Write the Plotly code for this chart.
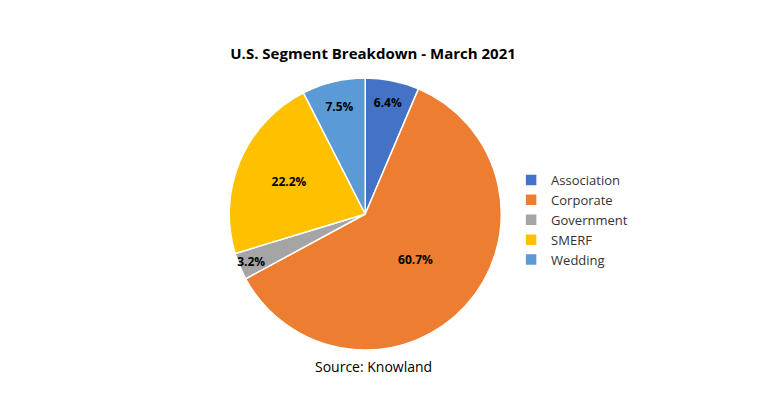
import plotly.graph_objects as go

segments = ["Association", "Corporate", "Government", "SMERF", "Wedding"]
shares = [6.4, 60.7, 3.2, 22.2, 7.5]
colors = ["#4472C4", "#ED7D31", "#A5A5A5", "#FFC000", "#5B9BD5"]

fig = go.Figure(go.Pie(
    labels=segments, values=shares, sort=False, direction="clockwise", rotation=0,
    marker=dict(colors=colors, line=dict(color="white", width=1.5)),
    texttemplate="<b>%{value:.1f}%</b>", textposition="inside",
    insidetextorientation="horizontal",
    textfont=dict(color="black", size=12, family="Open Sans"),
    domain=dict(x=[0.283, 0.633], y=[0.145, 0.825]),
))

fig.update_layout(
    width=780, height=400, margin=dict(l=0, r=0, t=0, b=0),
    paper_bgcolor="white", plot_bgcolor="white",
    font=dict(family="Open Sans", color="#333333"),
    uniformtext=dict(minsize=12, mode="show"),
    title=dict(text="<b>U.S. Segment Breakdown - March 2021</b>", x=0.468, xanchor="center",
               y=0.885, yanchor="middle", font=dict(size=15, color="black")),
    legend=dict(x=0.645, y=0.47, xanchor="left", yanchor="middle", bgcolor="rgba(0,0,0,0)",
                font=dict(size=13, color="#333333"), itemwidth=30, tracegroupgap=0),
    annotations=[dict(text="Source: Knowland", x=0.468, y=0.075, xref="paper", yref="paper",
                      showarrow=False, font=dict(size=14, color="black"))],
)

fig.write_html("out.html")
